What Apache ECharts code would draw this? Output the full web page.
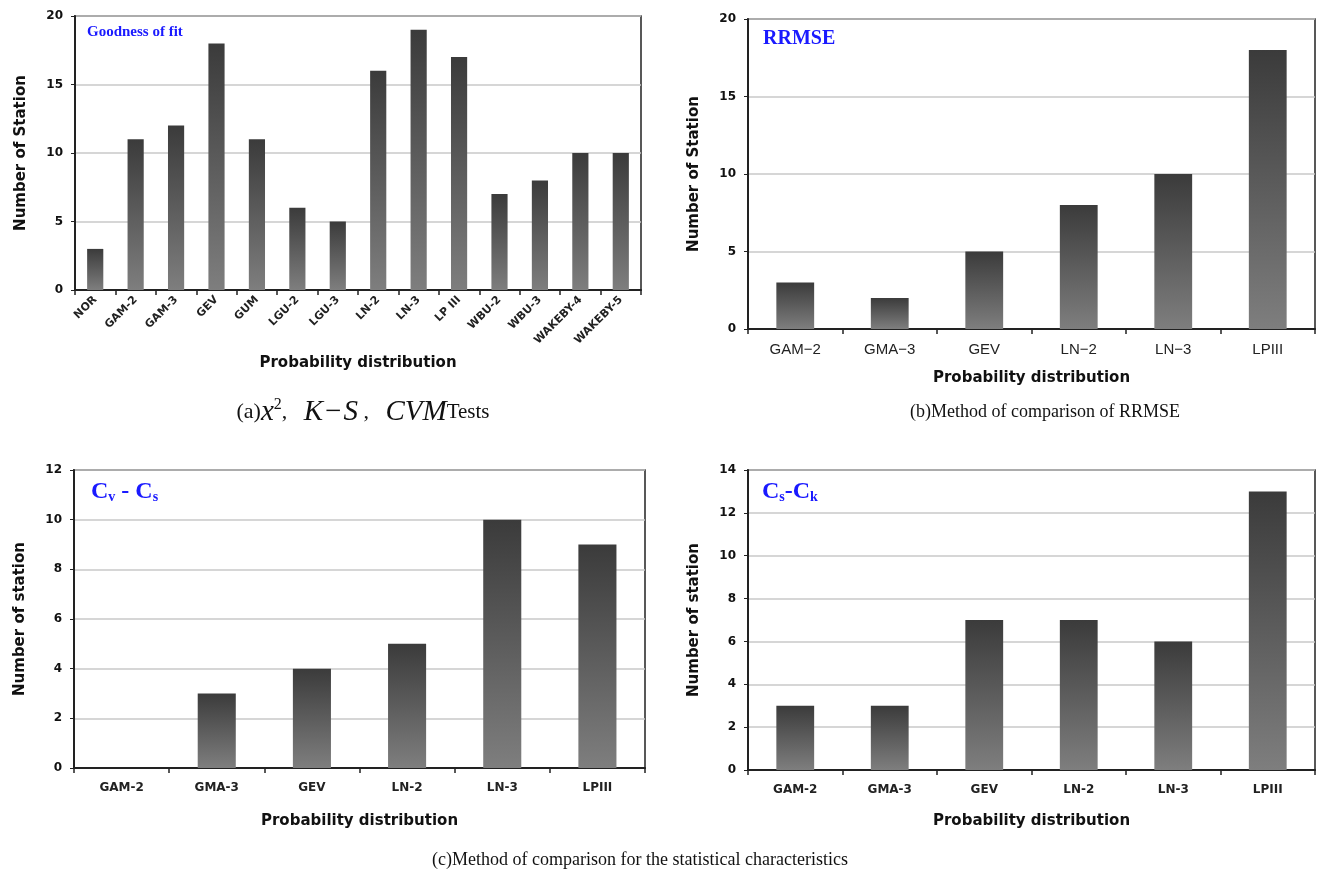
<!DOCTYPE html>
<html>
<head>
<meta charset="utf-8">
<script src="https://cdn.jsdelivr.net/npm/echarts@6/dist/echarts.min.js"></script>
<style>
  html, body { margin: 0; padding: 0; background: #fff; }
  #main { width: 1317px; height: 870px; }
</style>
</head>
<body>
<div id="main"></div>
<script>
// data
var distA = ['NOR', 'GAM-2', 'GAM-3', 'GEV', 'GUM', 'LGU-2', 'LGU-3', 'LN-2', 'LN-3', 'LP III', 'WBU-2', 'WBU-3', 'WAKEBY-4', 'WAKEBY-5'];
var fitCount = [3, 11, 12, 18, 11, 6, 5, 16, 19, 17, 7, 8, 10, 10];

var distB = ['GAM\u22122', 'GMA\u22123', 'GEV', 'LN\u22122', 'LN\u22123', 'LPIII'];
var rrmseCount = [3, 2, 5, 8, 10, 18];

var distC = ['GAM-2', 'GMA-3', 'GEV', 'LN-2', 'LN-3', 'LPIII'];
var cvcsCount = [0, 3, 4, 5, 10, 9];
var csckCount = [3, 3, 7, 7, 6, 13];

var chart = echarts.init(document.getElementById('main'));

var gothic = '"DejaVu Sans", sans-serif';
var serif = '"Liberation Serif", "DejaVu Serif", serif';

var barColor = {
  type: 'linear', x: 0, y: 0, x2: 0, y2: 1,
  colorStops: [
    { offset: 0, color: '#3b3b3b' },
    { offset: 1, color: '#7e7e7e' }
  ]
};

function xAx(idx, cats, gap, labelOpt) {
  return {
    type: 'category', gridIndex: idx, data: cats,
    name: 'Probability distribution', nameLocation: 'middle', nameGap: gap,
    nameTextStyle: { fontFamily: gothic, fontWeight: 'bold', fontSize: 15, color: '#111' },
    axisLine: { lineStyle: { color: '#222', width: 2 } },
    axisTick: { show: true, length: 5, lineStyle: { color: '#222', width: 1.5 } },
    axisLabel: Object.assign({ fontFamily: gothic, fontWeight: 'bold', fontSize: 12, color: '#222', interval: 0, margin: 14 }, labelOpt || {})
  };
}

function yAx(idx, max, step, name) {
  return {
    type: 'value', gridIndex: idx, min: 0, max: max, interval: step,
    name: name, nameLocation: 'middle', nameGap: 46,
    nameTextStyle: { fontFamily: gothic, fontWeight: 'bold', fontSize: 15, color: '#111' },
    axisLine: { show: true, lineStyle: { color: '#222', width: 2 } },
    axisTick: { show: true, length: 4, lineStyle: { color: '#222' } },
    axisLabel: { fontFamily: gothic, fontWeight: 'bold', fontSize: 12, color: '#111', margin: 12 },
    splitLine: { lineStyle: { color: '#c8c8c8', width: 1.5 } }
  };
}

function bars(idx, values) {
  return {
    type: 'bar', xAxisIndex: idx, yAxisIndex: idx, data: values,
    barWidth: '40%', itemStyle: { color: barColor }
  };
}

var gridBase = { show: true, borderColor: '#222', borderWidth: 1.5, backgroundColor: '#fff', containLabel: false };

var subStyle = { fontFamily: serif, fontWeight: 'bold', fontSize: 14, color: '#1a1aff', verticalAlign: 'bottom', padding: [11, 0, 0, 0] };
var bigStyle = { fontFamily: serif, fontWeight: 'bold', fontSize: 24, color: '#1a1aff' };

var capN = { fontFamily: serif, fontWeight: 'normal', fontSize: 22, color: '#111' };
var capI = { fontFamily: serif, fontWeight: 'normal', fontStyle: 'italic', fontSize: 29, color: '#111' };

var option = {
  backgroundColor: '#fff',
  animation: false,
  title: [
    { text: 'Goodness of fit', left: 82, top: 20, textStyle: { fontFamily: serif, fontWeight: 'bold', fontSize: 15, color: '#1a1aff' } },
    { text: 'RRMSE', left: 758, top: 24, textStyle: { fontFamily: serif, fontWeight: 'bold', fontSize: 20, color: '#1a1aff' } },
    { text: '{b|C}{s|v}{b| - C}{s|s}', left: 86, top: 474, textStyle: { rich: { b: bigStyle, s: subStyle } } },
    { text: '{b|C}{s|s}{b|-C}{s|k}', left: 757, top: 474, textStyle: { rich: { b: bigStyle, s: subStyle } } },
    {
      text: '{n|(a)}{i|x}{p|2}{n|,   }{i|K}{m|\u2212}{i|S}{n| ,   }{i|CVM}{t|Tests}', left: 358, top: 392, textAlign: 'center',
      textStyle: { fontWeight: 'normal', rich: {
        n: capN,
        i: capI,
        m: { fontFamily: serif, fontWeight: 'normal', fontSize: 29, color: '#111', padding: [0, 2, 0, 2] },
        p: { fontFamily: serif, fontWeight: 'normal', fontSize: 16, color: '#111', verticalAlign: 'top', padding: [0, 0, 14, 0] },
        t: { fontFamily: serif, fontWeight: 'normal', fontSize: 21, color: '#111' }
      } }
    },
    { text: '(b)Method of comparison of RRMSE', left: 1040, top: 398, textAlign: 'center', textStyle: { fontFamily: serif, fontWeight: 'normal', fontSize: 18, color: '#111' } },
    { text: '(c)Method of comparison for the statistical characteristics', left: 635, top: 846, textAlign: 'center', textStyle: { fontFamily: serif, fontWeight: 'normal', fontSize: 18, color: '#111' } }
  ],
  grid: [
    Object.assign({ left: 75, top: 16, width: 566, height: 274 }, gridBase),
    Object.assign({ left: 748, top: 19, width: 567, height: 310 }, gridBase),
    Object.assign({ left: 74, top: 470, width: 571, height: 298 }, gridBase),
    Object.assign({ left: 748, top: 470, width: 567, height: 300 }, gridBase)
  ],
  xAxis: [
    xAx(0, distA, 66, { rotate: 45, fontSize: 11, margin: 8 }),
    xAx(1, distB, 42, { fontFamily: '"Liberation Sans Narrow", "Liberation Sans", sans-serif', fontSize: 15, fontWeight: 'normal', margin: 13 }),
    xAx(2, distC, 46),
    xAx(3, distC, 44)
  ],
  yAxis: [
    yAx(0, 20, 5, 'Number of Station'),
    yAx(1, 20, 5, 'Number of Station'),
    yAx(2, 12, 2, 'Number of station'),
    yAx(3, 14, 2, 'Number of station')
  ],
  series: [
    bars(0, fitCount),
    bars(1, rrmseCount),
    bars(2, cvcsCount),
    bars(3, csckCount)
  ]
};

chart.setOption(option);
</script>
</body>
</html>
